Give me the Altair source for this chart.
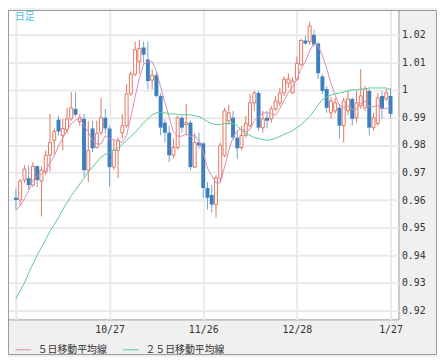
import altair as alt
import pandas as pd

# ---- data ----
tick_idx = [0, 22, 44, 66, 88]
tick_labels = ["", "10/27", "11/26", "12/28", "1/27"]
y_ticks = [0.92, 0.93, 0.94, 0.95, 0.96, 0.97, 0.98, 0.99, 1.0, 1.01, 1.02]
series_names = ["５日移動平均線", "２５日移動平均線"]
title_text = ["日足"]

opens = [0.9609, 0.9601, 0.9673, 0.9680, 0.9655, 0.9723, 0.9669, 0.9702, 0.9763, 0.9817,
         0.9892, 0.9835, 0.9856, 0.9895, 0.9931, 0.9885, 0.9895, 0.9709, 0.9860, 0.9791,
         0.9845, 0.9899, 0.9860, 0.9720, 0.9781, 0.9845, 0.9870, 0.9985, 1.0057, 1.0103,
         1.0154, 1.0110, 1.0035, 1.0053, 0.9978, 0.9881, 0.9845, 0.9763, 0.9791, 0.9899,
         0.9874, 0.9881, 0.9720, 0.9809, 0.9806, 0.9644, 0.9619, 0.9584, 0.9680, 0.9763,
         0.9888, 0.9899, 0.9827, 0.9791, 0.9835, 0.9870, 0.9953, 0.9989, 0.9863, 0.9899,
         0.9895, 0.9931, 0.9953, 0.9989, 1.0024, 0.9989, 1.0039, 1.0093, 1.0179, 1.0175,
         1.0200, 1.0168, 1.0049, 1.0003, 0.9917, 0.9924, 0.9935, 0.9870, 0.9924, 0.9967,
         0.9899, 0.9942, 0.9935, 0.9996, 0.9863, 0.9878, 0.9978, 0.9967, 0.9978]
highs = [0.9641, 0.9677, 0.9727, 0.9727, 0.9738, 0.9727, 0.9723, 0.9781, 0.9913, 0.9860,
         0.9906, 0.9895, 0.9935, 0.9992, 0.9992, 0.9913, 0.9913, 0.9888, 0.9888, 0.9888,
         0.9971, 0.9931, 0.9870, 0.9817, 0.9827, 0.9913, 1.0021, 1.0067, 1.0175, 1.0182,
         1.0175, 1.0175, 1.0075, 1.0067, 0.9989, 0.9895, 0.9870, 0.9824, 0.9906, 0.9906,
         0.9949, 0.9888, 0.9845, 0.9845, 0.9809, 0.9666, 0.9655, 0.9691, 0.9809, 0.9935,
         0.9946, 0.9924, 0.9852, 0.9870, 0.9906, 0.9985, 0.9996, 0.9996, 0.9924, 0.9924,
         0.9942, 0.9978, 1.0007, 1.0049, 1.0060, 1.0046, 1.0121, 1.0186, 1.0197, 1.0247,
         1.0218, 1.0175, 1.0057, 1.0014, 0.9974, 0.9971, 0.9949, 0.9971, 0.9996, 0.9974,
         0.9996, 1.0075, 1.0014, 1.0003, 0.9917, 0.9989, 0.9996, 1.0003, 1.0007]
lows = [0.9566, 0.9580, 0.9662, 0.9637, 0.9648, 0.9648, 0.9541, 0.9691, 0.9705, 0.9763,
        0.9835, 0.9781, 0.9842, 0.9888, 0.9903, 0.9870, 0.9684, 0.9666, 0.9774, 0.9788,
        0.9835, 0.9842, 0.9648, 0.9709, 0.9680, 0.9824, 0.9863, 0.9978, 1.0049, 1.0060,
        1.0096, 1.0003, 1.0003, 0.9971, 0.9835, 0.9809, 0.9738, 0.9752, 0.9784, 0.9845,
        0.9835, 0.9709, 0.9716, 0.9788, 0.9609, 0.9566, 0.9555, 0.9537, 0.9666, 0.9756,
        0.9874, 0.9817, 0.9749, 0.9781, 0.9827, 0.9863, 0.9924, 0.9852, 0.9845, 0.9860,
        0.9881, 0.9924, 0.9942, 0.9978, 1.0007, 0.9985, 1.0032, 1.0085, 1.0164, 1.0164,
        1.0157, 1.0039, 0.9985, 0.9917, 0.9895, 0.9913, 0.9824, 0.9809, 0.9910, 0.9870,
        0.9881, 0.9931, 0.9924, 0.9835, 0.9852, 0.9870, 0.9895, 0.9960, 0.9895]
closes = [0.9601, 0.9669, 0.9713, 0.9655, 0.9723, 0.9673, 0.9709, 0.9763, 0.9809, 0.9849,
          0.9849, 0.9860, 0.9895, 0.9935, 0.9910, 0.9899, 0.9709, 0.9781, 0.9788, 0.9842,
          0.9899, 0.9860, 0.9720, 0.9781, 0.9817, 0.9870, 0.9985, 1.0057, 1.0146, 1.0150,
          1.0128, 1.0032, 1.0053, 0.9978, 0.9863, 0.9845, 0.9763, 0.9791, 0.9899, 0.9863,
          0.9881, 0.9720, 0.9809, 0.9799, 0.9644, 0.9609, 0.9584, 0.9680, 0.9799, 0.9924,
          0.9917, 0.9827, 0.9788, 0.9835, 0.9878, 0.9953, 0.9989, 0.9863, 0.9895, 0.9888,
          0.9931, 0.9960, 0.9989, 1.0039, 1.0039, 1.0032, 1.0096, 1.0179, 1.0168, 1.0232,
          1.0164, 1.0060, 0.9996, 0.9935, 0.9960, 0.9953, 0.9870, 0.9960, 0.9967, 0.9895,
          0.9953, 0.9978, 1.0003, 0.9863, 0.9899, 0.9971, 0.9931, 0.9989, 0.9913]
ma5 = [0.9562, 0.9580, 0.9605, 0.9634, 0.9673, 0.9687, 0.9695, 0.9705, 0.9736, 0.9761,
       0.9796, 0.9826, 0.9852, 0.9878, 0.9890, 0.9900, 0.9870, 0.9847, 0.9817, 0.9804,
       0.9804, 0.9834, 0.9822, 0.9820, 0.9815, 0.9809, 0.9835, 0.9902, 0.9975, 1.0042,
       1.0093, 1.0102, 1.0102, 1.0068, 1.0011, 0.9954, 0.9900, 0.9848, 0.9832, 0.9832,
       0.9840, 0.9831, 0.9835, 0.9814, 0.9771, 0.9716, 0.9689, 0.9663, 0.9663, 0.9719,
       0.9781, 0.9829, 0.9851, 0.9858, 0.9849, 0.9856, 0.9888, 0.9903, 0.9915, 0.9918,
       0.9913, 0.9908, 0.9933, 0.9961, 0.9991, 1.0012, 1.0039, 1.0077, 1.0102, 1.0141,
       1.0168, 1.0161, 1.0124, 1.0078, 1.0023, 0.9981, 0.9943, 0.9936, 0.9942, 0.9929,
       0.9929, 0.9951, 0.9959, 0.9938, 0.9939, 0.9943, 0.9933, 0.9931, 0.9941]
ma25 = [0.9243, 0.9272, 0.9300, 0.9336, 0.9369, 0.9401, 0.9429, 0.9458, 0.9487, 0.9512,
        0.9537, 0.9566, 0.9591, 0.9616, 0.9637, 0.9659, 0.9680, 0.9702, 0.9720, 0.9738,
        0.9756, 0.9766, 0.9774, 0.9781, 0.9791, 0.9802, 0.9817, 0.9831, 0.9845, 0.9863,
        0.9881, 0.9895, 0.9910, 0.9917, 0.9917, 0.9917, 0.9913, 0.9913, 0.9910, 0.9910,
        0.9910, 0.9910, 0.9906, 0.9903, 0.9895, 0.9885, 0.9878, 0.9874, 0.9874, 0.9878,
        0.9878, 0.9878, 0.9870, 0.9852, 0.9842, 0.9835, 0.9827, 0.9824, 0.9820, 0.9817,
        0.9820, 0.9824, 0.9831, 0.9838, 0.9845, 0.9852, 0.9863, 0.9874, 0.9888, 0.9903,
        0.9924, 0.9946, 0.9964, 0.9974, 0.9981, 0.9985, 0.9989, 0.9992, 0.9996, 1.0000,
        1.0000, 1.0003, 1.0003, 1.0007, 1.0007, 1.0007, 1.0007, 1.0007, 1.0000]

# ---- tables ----
idx = list(range(len(opens)))
candles = pd.DataFrame({"i": idx, "open": opens, "high": highs, "low": lows, "close": closes})
candles["dir"] = ["up" if c >= o else "down" for o, c in zip(opens, closes)]
ma = pd.concat([
    pd.DataFrame({"i": idx, "v": ma5, "s": series_names[0]}),
    pd.DataFrame({"i": idx, "v": ma25, "s": series_names[1]}),
])

RED = "#e2765f"
BLUE = "#3d80c0"
BLUE_WICK = "#6fa6d6"
PINK = "#d98bb4"
GREEN = "#55cc92"
MONO = "DejaVu Sans Mono"
CJK = "Noto Sans CJK JP"

x_expr = " : ".join(f"datum.value == {i} ? '{l}'" for i, l in zip(tick_idx, tick_labels)) + " : ''"

xscale = alt.Scale(domain=[-0.7, 88.7], nice=False, zero=False)
yscale = alt.Scale(domain=[0.91677, 1.02896], nice=False, zero=False)

xaxis = alt.Axis(values=tick_idx, labelExpr=x_expr, grid=True, gridColor="#eaeaea", gridWidth=2,
                 domain=False, ticks=False, labelFont=MONO, labelFontSize=10, labelColor="#333333",
                 labelPadding=5, title=None, labelFlush=False)
yaxis = alt.Axis(orient="right", values=y_ticks,
                 labelExpr="datum.value == 1 ? '1' : format(datum.value, '.2f')",
                 grid=True, gridColor="#eaeaea", gridWidth=2, domain=False, ticks=False,
                 labelFont=MONO, labelFontSize=10, labelColor="#333333", labelPadding=3,
                 title=None)


def X():
    return alt.X("i:Q", scale=xscale, axis=xaxis)


def Y(field):
    return alt.Y(f"{field}:Q", scale=yscale, axis=yaxis)


base = alt.Chart(candles)

wick_up = base.transform_filter("datum.dir == 'up'").mark_rule(color=RED, strokeWidth=1).encode(
    x=X(), y=Y("low"), y2="high")
wick_dn = base.transform_filter("datum.dir == 'down'").mark_rule(color=BLUE_WICK, strokeWidth=1).encode(
    x=X(), y=Y("low"), y2="high")
body_up = base.transform_filter("datum.dir == 'up'").mark_bar(
    size=3, fill="white", stroke=RED, strokeWidth=1).encode(x=X(), y=Y("open"), y2="close")
body_dn = base.transform_filter("datum.dir == 'down'").mark_bar(
    size=4, color=BLUE).encode(x=X(), y=Y("open"), y2="close")

lines = alt.Chart(ma).mark_line(strokeWidth=1, clip=True).encode(
    x=X(), y=Y("v"),
    color=alt.Color("s:N", scale=alt.Scale(domain=series_names, range=[PINK, GREEN]),
                    legend=alt.Legend(title=None, orient="none", legendX=7, legendY=335,
                                      direction="horizontal", symbolType="stroke", symbolSize=256,
                                      symbolStrokeWidth=1, labelFont=CJK, labelFontSize=10,
                                      labelColor="#333333", columnPadding=14, labelOffset=6,
                                      padding=0)),
    order="i:Q",
)

label = alt.Chart(pd.DataFrame({"t": title_text})).mark_text(
    font=CJK, fontSize=10, color="#4fc0ee", align="left", baseline="middle").encode(
    x=alt.value(7), y=alt.value(7), text="t:N")

frame = alt.Chart(pd.DataFrame({"t": title_text})).mark_rect(
    filled=False, stroke="#9a9a9a", strokeWidth=1).encode(
    x=alt.value(0.5), x2=alt.value(433.5), y=alt.value(0.5), y2=alt.value(348.5))

chart = alt.layer(wick_up, wick_dn, body_up, body_dn, lines, label, frame).properties(
    width=395, height=313, padding=0, background="#f0f0f0"
).configure_view(fill="white", stroke="#9a9a9a", strokeWidth=1)

chart.save("out.html", embed_options={"renderer": "svg", "actions": False})
